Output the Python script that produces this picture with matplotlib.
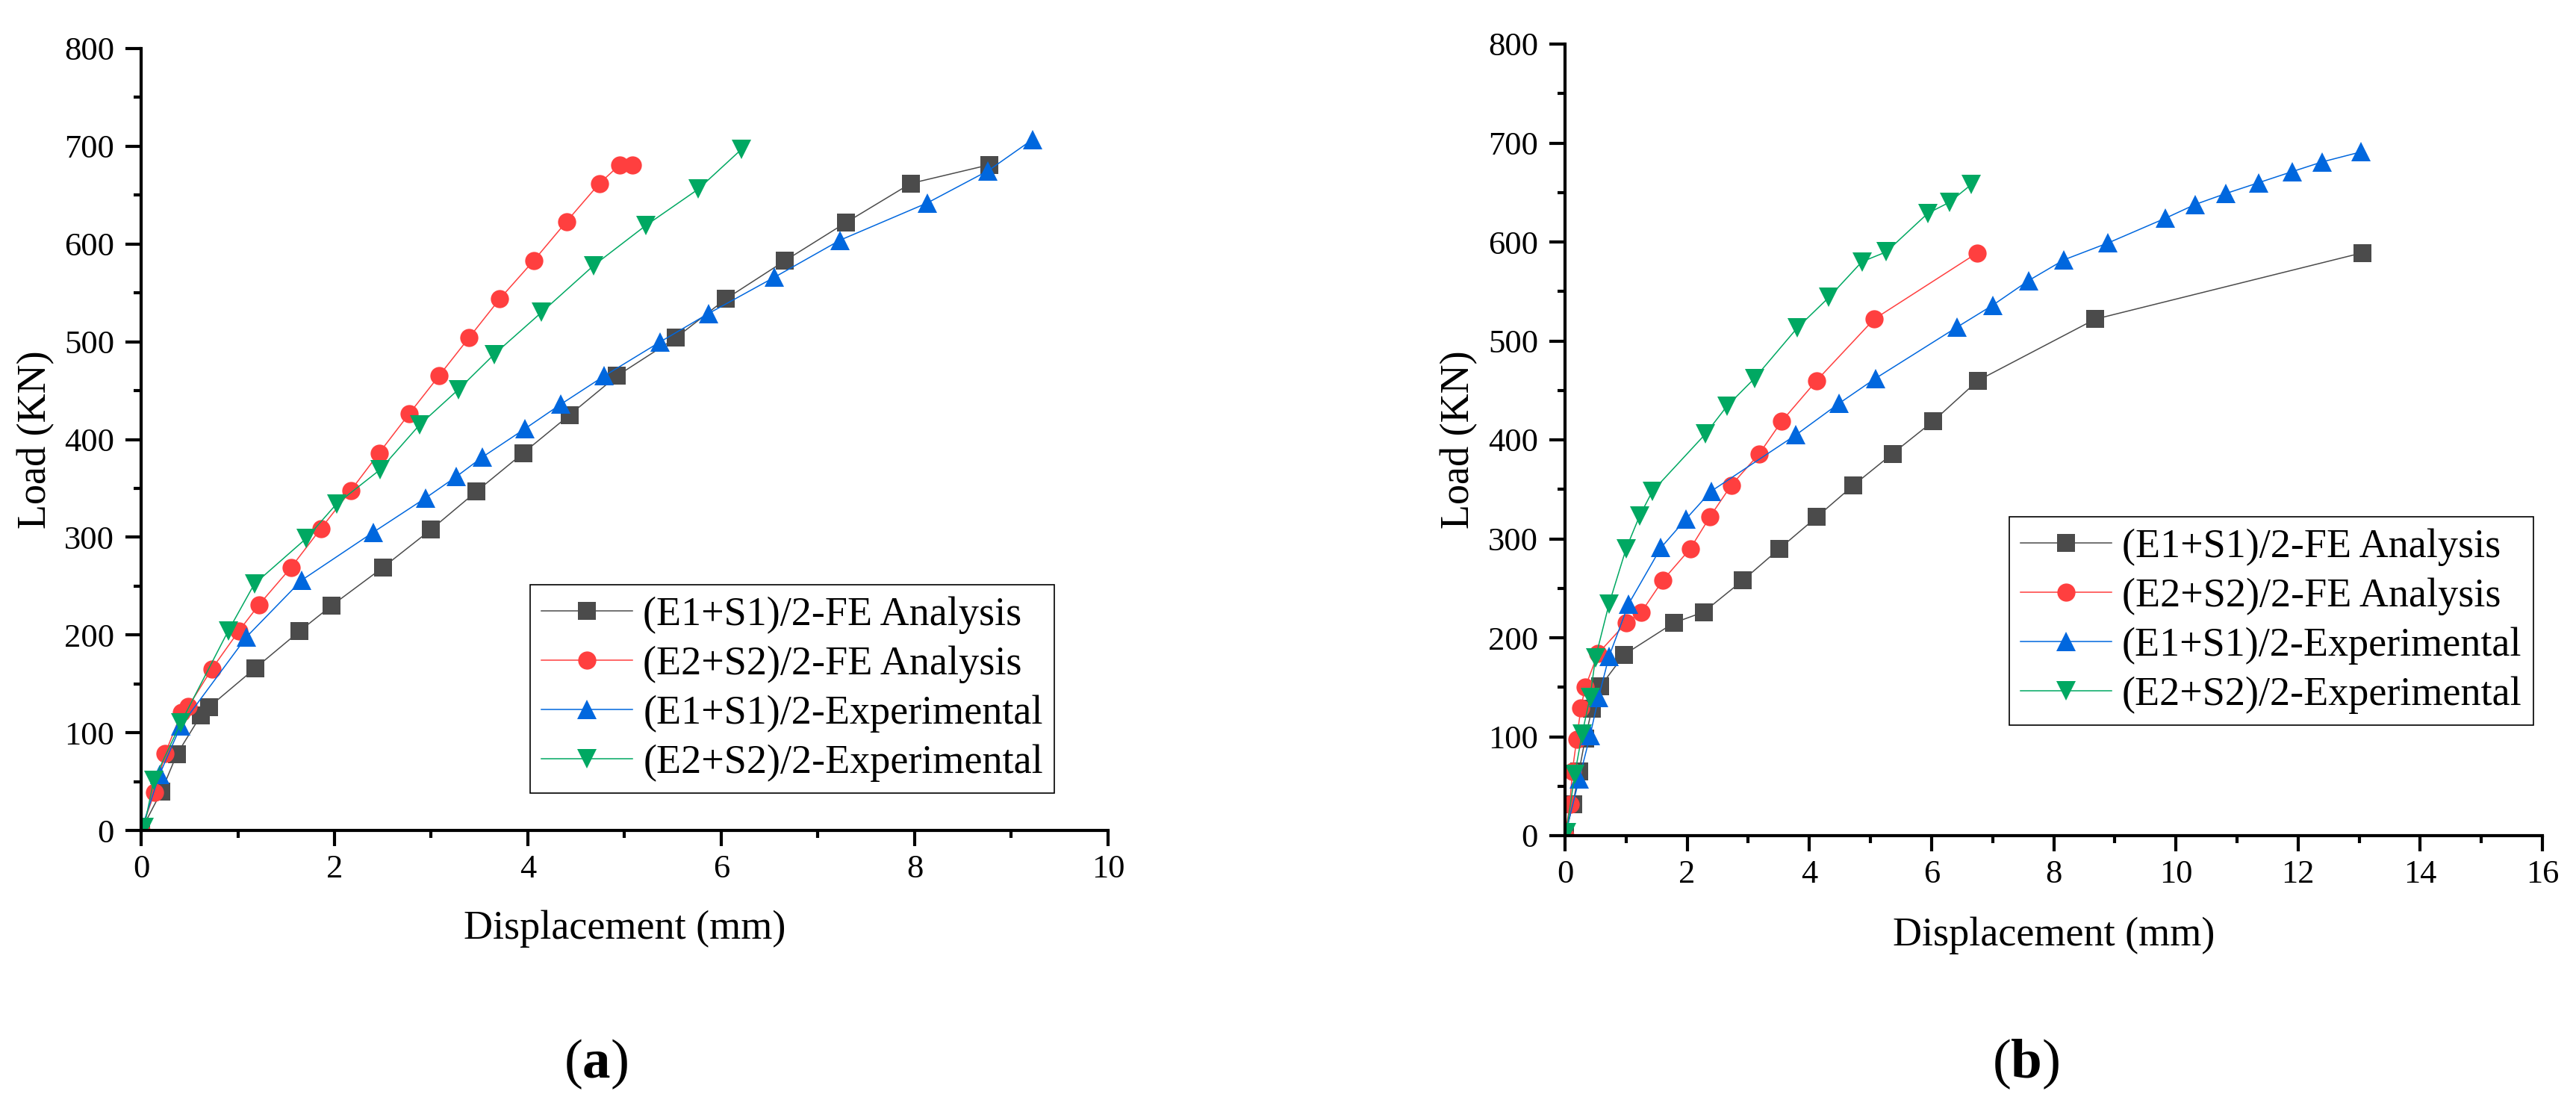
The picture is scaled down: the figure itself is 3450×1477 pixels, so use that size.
import matplotlib
matplotlib.use('Agg')
import matplotlib.pyplot as plt
from matplotlib.ticker import MultipleLocator

plt.rcParams['font.family'] = ['Liberation Serif', 'DejaVu Serif']
plt.rcParams['mathtext.fontset'] = 'custom'
plt.rcParams['mathtext.rm'] = 'Liberation Serif'
plt.rcParams['mathtext.bf'] = 'Liberation Serif:bold'

labels = ['(E1+S1)/2-FE Analysis', '(E2+S2)/2-FE Analysis',
          '(E1+S1)/2-Experimental', '(E2+S2)/2-Experimental']

# panel (a)
a_fe1_x = [0, 0.21, 0.37, 0.62, 0.70, 1.18, 1.64, 1.97, 2.50, 3.00, 3.47, 3.95, 4.43, 4.92, 5.53, 6.05, 6.66, 7.29, 7.96, 8.77]
a_fe1_y = [0, 40, 78, 118, 126, 166, 204, 230, 269, 308, 347, 386, 425, 465, 504, 544, 583, 622, 662, 681]
a_fe2_x = [0, 0.14, 0.25, 0.42, 0.49, 0.73, 1.01, 1.22, 1.55, 1.86, 2.17, 2.46, 2.77, 3.08, 3.39, 3.71, 4.06, 4.40, 4.74, 4.95, 5.08]
a_fe2_y = [0, 39, 79, 121, 127, 165, 204, 231, 269, 309, 348, 386, 426, 465, 504, 544, 583, 623, 662, 681, 681]
a_ex1_x = [0, 0.19, 0.41, 1.09, 1.66, 2.40, 2.94, 3.26, 3.53, 3.97, 4.34, 4.79, 5.37, 5.87, 6.55, 7.23, 8.13, 8.76, 9.22]
a_ex1_y = [0, 57, 107, 198, 256, 305, 340, 362, 382, 411, 436, 465, 500, 529, 566, 604, 642, 675, 707]
a_ex2_x = [0.03, 0.13, 0.41, 0.90, 1.17, 1.71, 2.02, 2.47, 2.88, 3.28, 3.65, 4.14, 4.68, 5.22, 5.76, 6.21]
a_ex2_y = [3, 51, 110, 204, 252, 299, 334, 369, 415, 451, 487, 530, 578, 619, 656, 697]

# panel (b)
b_fe1_x = [0, 0.13, 0.23, 0.33, 0.44, 0.58, 0.97, 1.78, 2.27, 2.91, 3.51, 4.12, 4.72, 5.36, 6.03, 6.76, 8.68, 13.05]
b_fe1_y = [0, 32, 65, 98, 128, 151, 183, 215, 226, 258, 290, 322, 354, 386, 419, 460, 522, 589]
b_fe2_x = [0, 0.08, 0.12, 0.19, 0.26, 0.33, 0.54, 1.00, 1.25, 1.60, 2.05, 2.37, 2.72, 3.18, 3.55, 4.12, 5.06, 6.75]
b_fe2_y = [0, 32, 65, 97, 129, 150, 184, 215, 226, 258, 290, 322, 354, 386, 419, 460, 522, 589]
b_ex1_x = [0, 0.23, 0.41, 0.55, 0.72, 1.04, 1.57, 1.98, 2.39, 3.78, 4.49, 5.08, 6.42, 7.00, 7.59, 8.17, 8.89, 9.83, 10.32, 10.82, 11.36, 11.90, 12.40, 13.03]
b_ex1_y = [0, 57, 101, 140, 181, 234, 291, 320, 348, 405, 437, 462, 514, 536, 561, 582, 599, 624, 638, 649, 660, 671, 681, 691]
b_ex2_x = [0.02, 0.16, 0.28, 0.41, 0.50, 0.72, 1.00, 1.22, 1.43, 2.30, 2.65, 3.10, 3.80, 4.32, 4.86, 5.26, 5.94, 6.29, 6.65]
b_ex2_y = [3, 62, 103, 140, 180, 234, 290, 323, 348, 406, 434, 462, 513, 544, 580, 590, 629, 640, 658]

colors = ['#4B4B4B', '#FF3F3F', '#0067DE', '#00A862']
markers = ['s', 'o', '^', 'v']
msizes = [17, 17.5, 19, 19]

W, H = 3450, 1477
fig = plt.figure(figsize=(W / 100, H / 100), dpi=100)


def make_panel(rect, xmax, series, leg_xy, letter, letter_x):
    ax = fig.add_axes(rect)
    for (xs, ys), c, m, ms, lab in zip(series, colors, markers, msizes, labels):
        ax.plot(xs, ys, color=c, lw=1.1, marker=m, ms=ms, mec=c, mew=0, label=lab)
    ax.set_xlim(0, xmax)
    ax.set_ylim(0, 800)
    ax.xaxis.set_major_locator(MultipleLocator(2))
    ax.xaxis.set_minor_locator(MultipleLocator(1))
    ax.yaxis.set_major_locator(MultipleLocator(100))
    ax.yaxis.set_minor_locator(MultipleLocator(50))
    for s in ['top', 'right']:
        ax.spines[s].set_visible(False)
    for s in ['left', 'bottom']:
        ax.spines[s].set_linewidth(3)
    ax.tick_params(axis='both', which='major', direction='out', length=15, width=3, labelsize=32)
    ax.tick_params(axis='both', which='minor', direction='out', length=7.5, width=3)
    ax.tick_params(axis='x', which='major', pad=8)
    ax.tick_params(axis='y', which='major', pad=11)
    ax.set_xlabel('Displacement (mm)', fontsize=39)
    ax.set_ylabel('Load (KN)', fontsize=39)
    ax.xaxis.set_label_coords(0.5, -0.102)
    ax.yaxis.set_label_coords(-0.089, 0.5)
    leg = ax.legend(loc='upper left', bbox_to_anchor=leg_xy, bbox_transform=fig.transFigure,
                    borderaxespad=0, fontsize=39, frameon=True, fancybox=False,
                    edgecolor='black', framealpha=1, handlelength=2.25,
                    handletextpad=0.26, borderpad=0.28, labelspacing=0.29, numpoints=1)
    leg.get_frame().set_linewidth(1.2)
    fig.text(letter_x, 1 - 1443 / H, r'$\mathrm{(}\mathbf{' + letter + r'}\mathrm{)}$',
             fontsize=54, ha='center', va='baseline')
    return ax


make_panel([189 / W, 1 - 1112 / H, 1295 / W, 1047 / H], 10,
           [(a_fe1_x, a_fe1_y), (a_fe2_x, a_fe2_y), (a_ex1_x, a_ex1_y), (a_ex2_x, a_ex2_y)],
           (710 / W, 1 - 783 / H), 'a', 798 / W)
make_panel([2096 / W, 1 - 1119 / H, 1309 / W, 1060 / H], 16,
           [(b_fe1_x, b_fe1_y), (b_fe2_x, b_fe2_y), (b_ex1_x, b_ex1_y), (b_ex2_x, b_ex2_y)],
           (2691 / W, 1 - 692 / H), 'b', 2713 / W)

fig.savefig('out.png', dpi=100)
